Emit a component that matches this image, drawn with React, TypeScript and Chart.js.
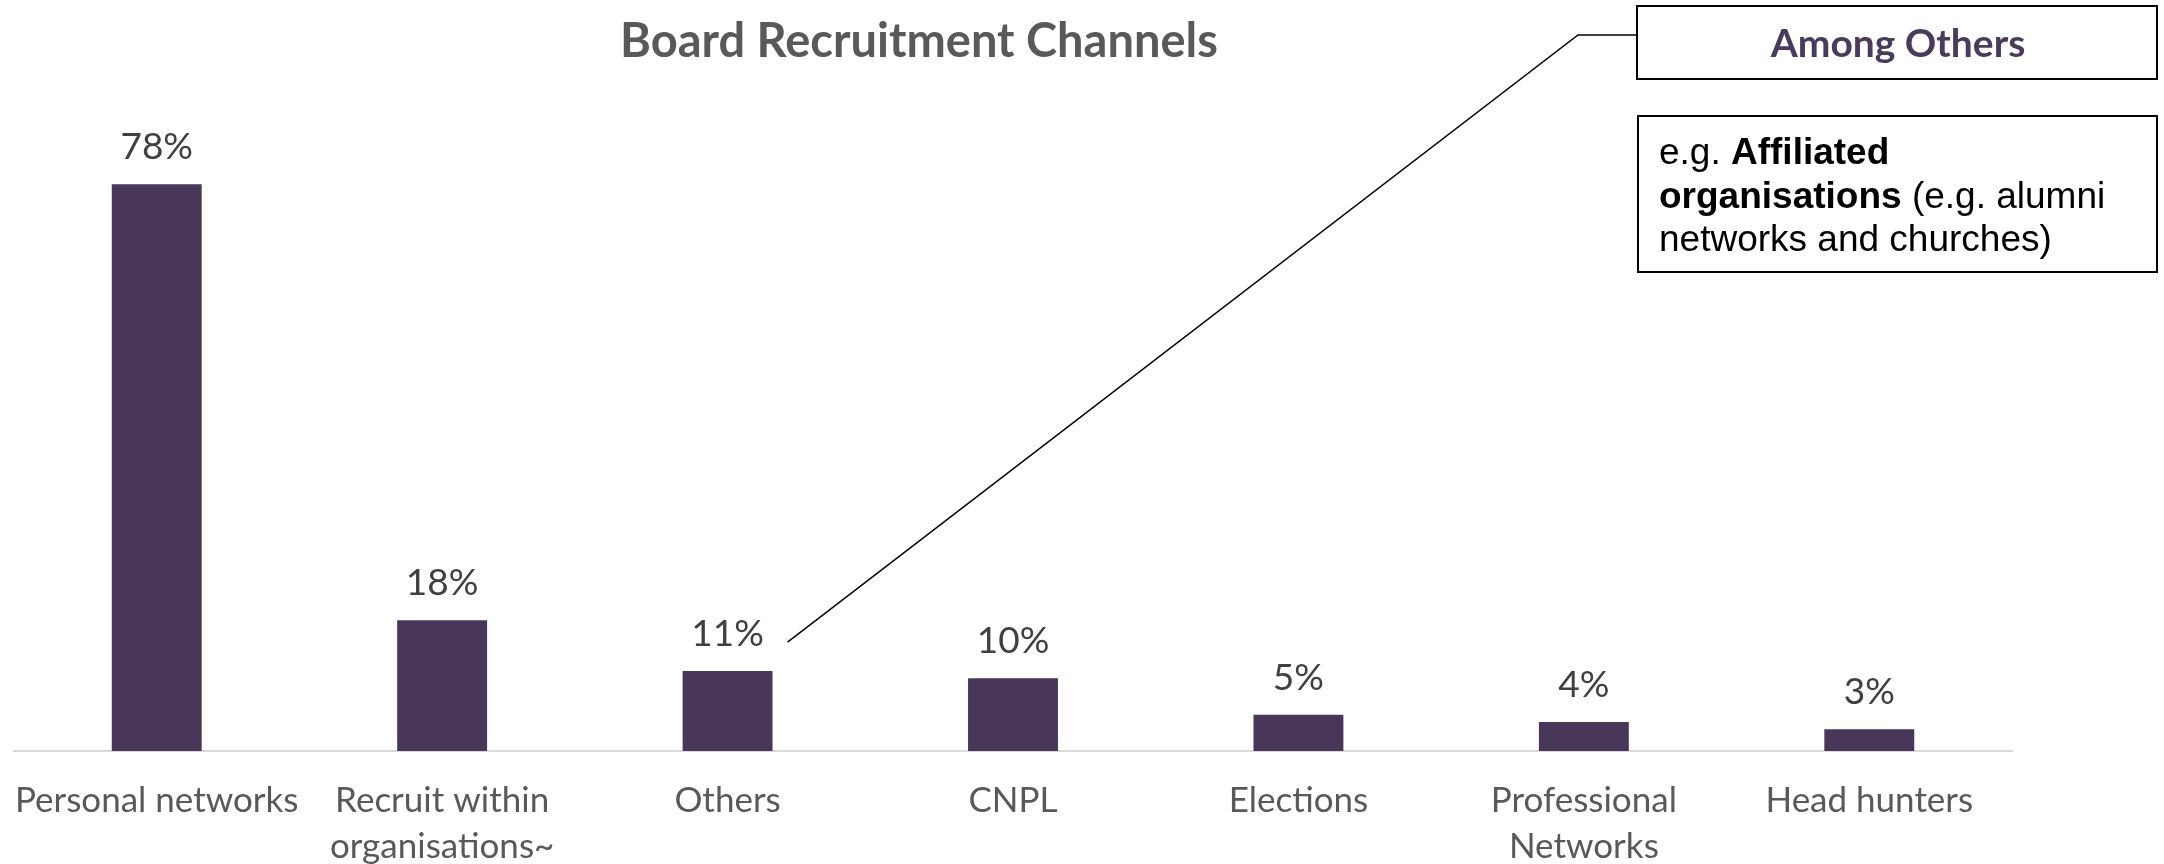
import React, { useEffect, useRef } from "react";
import { Chart, registerables } from "chart.js";

Chart.register(...registerables);

const categories: string[][] = [
  ["Personal networks"],
  ["Recruit within", "organisations~"],
  ["Others"],
  ["CNPL"],
  ["Elections"],
  ["Professional", "Networks"],
  ["Head hunters"],
];
const values: number[] = [78, 18, 11, 10, 5, 4, 3];
const valueLabels: string[] = ["78%", "18%", "11%", "10%", "5%", "4%", "3%"];
const titleText = "Board Recruitment Channels";
const calloutTitle = "Among Others";
const calloutAnchorIndex = 2; // "Others"
const calloutLines: { t: string; b: boolean }[][] = [
  [{ t: "e.g. ", b: false }, { t: "Affiliated", b: true }],
  [{ t: "organisations", b: true }, { t: " (e.g. alumni", b: false }],
  [{ t: "networks and churches)", b: false }],
];

const BAR_COLOR = "#483759";
const FONT = "Lato, 'Open Sans', sans-serif";

const overlayPlugin = {
  id: "overlay",
  afterDraw(chart: any) {
    const ctx: CanvasRenderingContext2D = chart.ctx;
    const meta = chart.getDatasetMeta(0);
    ctx.save();
    // title
    ctx.fillStyle = "#595959";
    ctx.font = `bold 47px ${FONT}`;
    ctx.textAlign = "center";
    ctx.textBaseline = "middle";
    ctx.fillText(titleText, 919, 42);

    // value labels
    ctx.fillStyle = "#404040";
    ctx.font = `37px ${FONT}`;
    meta.data.forEach((bar: any, i: number) => {
      ctx.fillText(valueLabels[i], bar.x, bar.y - 37);
    });

    // callout box 1
    ctx.strokeStyle = "#000";
    ctx.lineWidth = 2;
    ctx.strokeRect(1637, 6, 520, 73);
    ctx.fillStyle = "#4a3a5c";
    ctx.font = `bold 39px ${FONT}`;
    ctx.fillText(calloutTitle, 1898, 44);

    // callout box 2
    ctx.strokeRect(1638, 116, 519, 156);
    ctx.textAlign = "left";
    ctx.fillStyle = "#000";
    calloutLines.forEach((line, li) => {
      let x = 1659;
      const y = 154 + li * 43.5;
      line.forEach((seg) => {
        ctx.font = `${seg.b ? "bold " : ""}37px 'Liberation Sans', Arial, sans-serif`;
        ctx.fillText(seg.t, x, y);
        x += ctx.measureText(seg.t).width;
      });
    });

    // connector
    const anchor = meta.data[calloutAnchorIndex];
    ctx.lineWidth = 1.5;
    ctx.beginPath();
    ctx.moveTo(anchor.x + 60, anchor.y - 29);
    ctx.lineTo(1578, 35);
    ctx.lineTo(1636, 35);
    ctx.stroke();
    ctx.restore();
  },
};

export default function App() {
  const ref = useRef<HTMLCanvasElement | null>(null);
  useEffect(() => {
    document.body.style.margin = "0";
    const chart = new Chart(ref.current!, {
      type: "bar",
      data: {
        labels: categories,
        datasets: [
          {
            data: values,
            backgroundColor: BAR_COLOR,
            borderWidth: 0,
            categoryPercentage: 1,
            barPercentage: 0.315,
          },
        ],
      },
      options: {
        animation: false,
        responsive: false,
        layout: { padding: { left: 14, right: 152, top: 97, bottom: 0 } },
        plugins: { legend: { display: false }, tooltip: { enabled: false }, title: { display: false } },
        scales: {
          x: {
            grid: { display: false, drawTicks: false },
            border: { display: true, color: "#d9d9d9", width: 2 },
            ticks: {
              color: "#595959",
              font: { family: FONT, size: 35, lineHeight: 1.3 },
              padding: 27,
              maxRotation: 0,
              autoSkip: false,
            },
            afterFit: (scale: any) => {
              scale.height = 113;
              scale.paddingLeft = 0;
              scale.paddingRight = 0;
            },
          },
          y: { display: false, min: 0, max: 90 },
        },
      },
      plugins: [overlayPlugin],
    });
    return () => chart.destroy();
  }, []);
  return <canvas ref={ref} width={2164} height={864} style={{ display: "block" }} />;
}
